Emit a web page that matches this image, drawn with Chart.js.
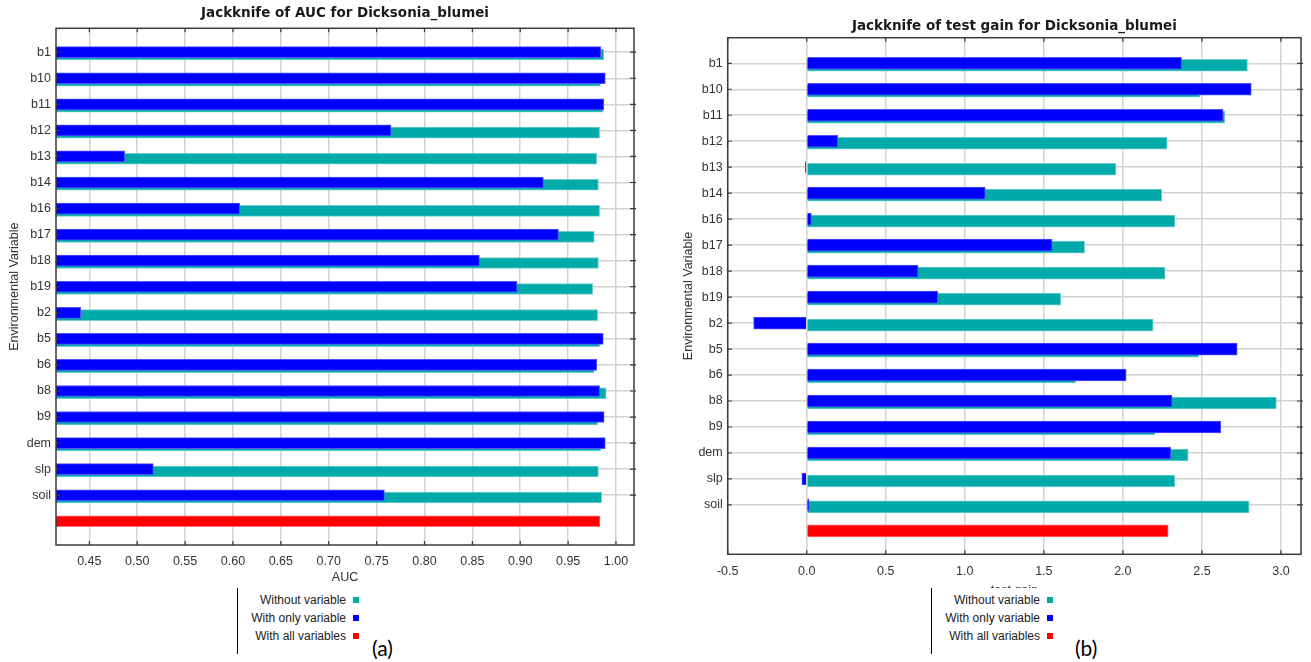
<!DOCTYPE html>
<html><head><meta charset="utf-8">
<script src="https://cdn.jsdelivr.net/npm/chart.js@4.4.1/dist/chart.umd.min.js"></script>
<style>
html,body{margin:0;padding:0;background:#fff;}
body{width:1311px;height:662px;overflow:hidden;position:relative;font-family:'Liberation Sans',Arial,sans-serif;}
canvas{position:absolute;}
#c1{left:0;top:0;}
#c2{left:660px;top:0;}
.legend{position:absolute;background:#fff;border-left:1px solid #000;height:66px;width:121px;font-size:12px;color:#222;}
.legend .row{position:absolute;right:0;height:18px;display:flex;align-items:center;gap:7px;white-space:nowrap;}
.legend .sw{width:6px;height:6px;display:inline-block;}
.tag{position:absolute;font-family:Lato,'Open Sans',sans-serif;font-size:21px;color:#000;line-height:1;}
</style>
</head><body>
<canvas id="c1" width="650" height="600"></canvas>
<canvas id="c2" width="651" height="610"></canvas>
<div class="legend" id="lg1" style="left:237px;top:588px;"></div>
<div class="legend" id="lg2" style="left:931px;top:588px;"></div>
<div class="tag" style="left:372px;top:637px;">(a)</div>
<div class="tag" style="left:1075px;top:637px;">(b)</div>
<script>
// ---- data ----
const categories = ['b1','b10','b11','b12','b13','b14','b16','b17','b18','b19','b2','b5','b6','b8','b9','dem','slp','soil'];
const seriesLabels = ['Without variable','With only variable','With all variables'];

const aucWithout  = [0.9872,0.9837,0.9865,0.9829,0.9799,0.9816,0.9829,0.9773,0.9816,0.9757,0.9808,0.9829,0.9773,0.9897,0.9808,0.9841,0.9816,0.9850];
const aucWithOnly = [0.9841,0.9888,0.9872,0.7650,0.4869,0.9241,0.6070,0.9399,0.8573,0.8965,0.4410,0.9867,0.9799,0.9829,0.9876,0.9888,0.5168,0.7581];
const aucWithAll  = 0.9833;
const aucTicks = [0.45,0.50,0.55,0.60,0.65,0.70,0.75,0.80,0.85,0.90,0.95,1.00];

const gainWithout  = [2.788,2.486,2.645,2.280,1.956,2.246,2.329,1.758,2.267,1.607,2.191,2.480,1.701,2.971,2.204,2.413,2.329,2.799];
const gainWithOnly = [2.371,2.812,2.634,0.196,-0.008,1.129,0.029,1.552,0.704,0.829,-0.336,2.723,2.021,2.311,2.619,2.303,-0.031,0.013];
const gainWithAll  = 2.287;
const gainTicks = [-0.5,0.0,0.5,1.0,1.5,2.0,2.5,3.0];

// ---- styling ----
const COL_WITHOUT = '#00aaaa', COL_ONLY = '#0000ff', COL_ALL = '#ff0000';
const FONT = "'Liberation Sans', Arial, sans-serif";
const TITLE_FONT = "'DejaVu Sans', 'Liberation Sans', sans-serif";

const framePlugin = {
  id: 'frame',
  afterDatasetsDraw(chart) {
    const {ctx, chartArea: a, scales} = chart;
    ctx.save();
    ctx.strokeStyle = '#3a3a3a';
    ctx.lineWidth = 1.5;
    ctx.strokeRect(a.left, a.top, a.right - a.left, a.bottom - a.top);
    ctx.lineWidth = 1.2;
    ctx.beginPath();
    scales.x.ticks.forEach(t => {
      const px = scales.x.getPixelForValue(t.value);
      ctx.moveTo(px, a.top); ctx.lineTo(px, a.top + 4);
      ctx.moveTo(px, a.bottom); ctx.lineTo(px, a.bottom - 4);
    });
    scales.y.ticks.forEach(t => {
      const py = scales.y.getPixelForValue(t.value);
      ctx.moveTo(a.left, py); ctx.lineTo(a.left + 4, py);
      ctx.moveTo(a.right - 4, py); ctx.lineTo(a.right + 2, py);
    });
    ctx.stroke();
    ctx.restore();
  }
};

function makeChart(id, o) {
  const only = categories.map((c, i) => ({x: o.withOnly[i], y: i}));
  const without = categories.map((c, i) => ({x: o.without[i], y: i}));
  const all = [{x: o.withAll, y: categories.length}];
  return new Chart(document.getElementById(id), {
    type: 'bar',
    data: {
      datasets: [
        {label: seriesLabels[1], data: only, yAxisID: 'y', backgroundColor: COL_ONLY, borderColor: '#5050ff', borderWidth: 1, barThickness: o.barT, grouped: false, clip: 0},
        {label: seriesLabels[0], data: without, yAxisID: 'y2', backgroundColor: COL_WITHOUT, borderColor: '#70d0d0', borderWidth: 1, barThickness: o.barT, grouped: false, clip: 0},
        {label: seriesLabels[2], data: all, yAxisID: 'y', backgroundColor: COL_ALL, borderColor: '#ff7070', borderWidth: 1, barThickness: o.barT, grouped: false, clip: 0}
      ]
    },
    options: {
      indexAxis: 'y',
      responsive: false,
      animation: false,
      events: [],
      layout: {padding: o.pad},
      plugins: {
        legend: {display: false},
        tooltip: {enabled: false},
        title: {display: true, text: o.title, fullSize: false, color: '#1a1a1a',
                font: {family: TITLE_FONT, size: 13.5, weight: 'bold'}, padding: o.titlePad}
      },
      scales: {
        x: {
          type: 'linear', min: o.xMin, max: o.xMax, offset: false,
          afterBuildTicks: s => { s.ticks = o.xTicks.map(v => ({value: v})); },
          afterFit: s => { s.height = o.xH; },
          ticks: {callback: v => Number(v).toFixed(o.dec), color: '#333', font: {family: FONT, size: 12.5}, padding: o.xTickPad, autoSkip: false, maxRotation: 0},
          grid: {color: '#d2d2d2', lineWidth: 1.5, drawTicks: false, offset: false},
          border: {display: false},
          title: {display: true, text: o.xTitle, color: '#333', font: {family: FONT, size: 12.5}, padding: {top: 0, bottom: o.xTitlePadB}}
        },
        y: {
          type: 'linear', reverse: true, min: o.yMin, max: o.yMax, offset: false,
          afterBuildTicks: s => { s.ticks = categories.map((c, i) => ({value: i})); },
          afterFit: s => { s.width = o.yW; },
          ticks: {callback: v => categories[v], color: '#333', font: {family: FONT, size: 12.5}, padding: 5, autoSkip: false},
          grid: {color: '#d2d2d2', lineWidth: 1.5, drawTicks: false, offset: false},
          border: {display: false},
          title: {display: true, text: 'Environmental Variable', color: '#333', font: {family: FONT, size: 12.5}, padding: {top: o.yTitlePadT, bottom: 0}}
        },
        y2: {
          type: 'linear', reverse: true, display: false, offset: false,
          min: o.yMin - o.shift, max: o.yMax - o.shift
        }
      }
    },
    plugins: [framePlugin]
  });
}

makeChart('c1', {
  title: 'Jackknife of AUC for Dicksonia_blumei', xTitle: 'AUC',
  withOnly: aucWithOnly, without: aucWithout, withAll: aucWithAll,
  xMin: 0.4152, xMax: 1.0188, xTicks: aucTicks, dec: 2,
  yMin: -0.917, yMax: 18.91, shift: 0.088, barT: 11,
  pad: {left: 0, right: 16, top: 0, bottom: 0},
  titlePad: {top: 5, bottom: 7.1}, xH: 55, xTickPad: 9, xTitlePadB: 14.5,
  yW: 56, yTitlePadT: 7
});

makeChart('c2', {
  title: 'Jackknife of test gain for Dicksonia_blumei', xTitle: 'test gain',
  withOnly: gainWithOnly, without: gainWithout, withAll: gainWithAll,
  xMin: -0.5, xMax: 3.127, xTicks: gainTicks, dec: 1,
  yMin: -0.985, yMax: 18.90, shift: 0.077, barT: 12,
  pad: {left: 0, right: 10, top: 0, bottom: 0},
  titlePad: {top: 18.6, bottom: 2.9}, xH: 55.7, xTickPad: 10, xTitlePadB: 11.5,
  yW: 67.7, yTitlePadT: 21
});

// HTML legends built from the series labels
function buildLegend(id) {
  const el = document.getElementById(id);
  const cols = [COL_WITHOUT, COL_ONLY, COL_ALL];
  seriesLabels.forEach((lab, i) => {
    const r = document.createElement('div');
    r.className = 'row';
    r.style.top = (3 + i * 18) + 'px';
    const t = document.createElement('span'); t.textContent = lab;
    const s = document.createElement('span'); s.className = 'sw'; s.style.background = cols[i];
    r.appendChild(t); r.appendChild(s); el.appendChild(r);
  });
}
buildLegend('lg1'); buildLegend('lg2');
</script>
</body></html>
